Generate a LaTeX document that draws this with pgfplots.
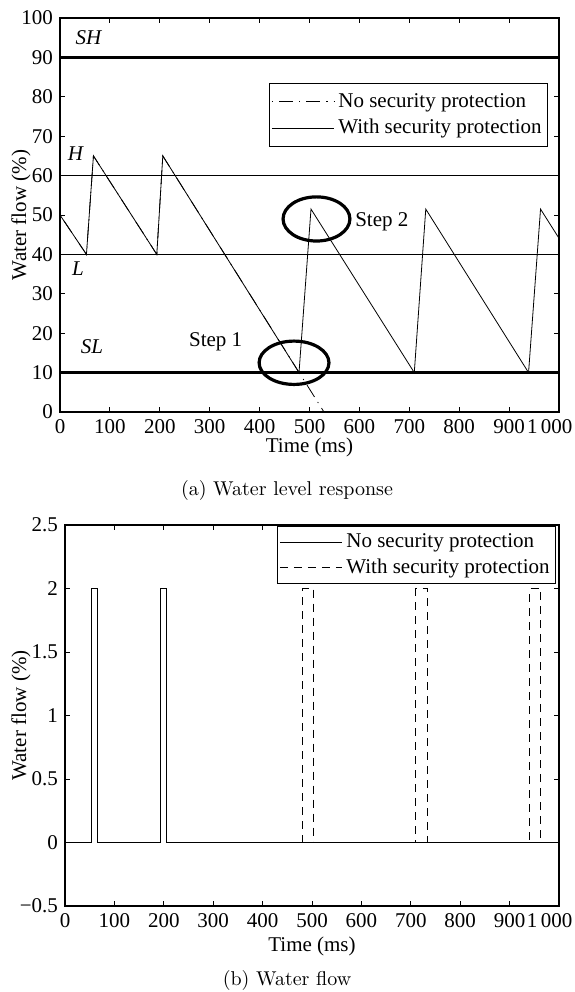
\documentclass[border=0pt]{standalone}
\usepackage{pgfplots}
\pgfplotsset{compat=1.18}
\usepackage{fontspec}
\newfontfamily\tnr{Liberation Serif}
\begin{document}
\begin{tikzpicture}
\useasboundingbox (0pt,0pt) rectangle (287pt,-496pt);
\pgfplotsset{
  myaxis/.style={
    scale only axis,
    axis line style={line width=0.9pt},
    tick align=inside,
    major tick length=2.5pt,
    tick style={line width=0.5pt,black},
    tick label style={font=\tnr\fontsize{10.5}{12}\selectfont},
    /pgf/number format/assume math mode=true,
    xmin=0, xmax=1000,
    xtick={0,100,...,1000},
    xticklabels={0,100,200,300,400,500,600,700,800,900,\makebox[13.5pt][r]{1\,000}},
    legend cell align=left,
    legend style={font=\tnr\fontsize{10.5}{12}\selectfont, draw=black, line width=0.4pt,
      inner xsep=1pt, inner ysep=3pt, row sep=0.5pt,
      /tikz/every even column/.append style={column sep=0pt}},
    legend image code/.code={\draw[##1, line width=0.4pt] (0pt,0pt) -- (31pt,0pt);},
    clip=false,
  }
}
% ---------------- (a) ----------------
\begin{axis}[myaxis,
  at={(30pt,-206pt)}, anchor=south west,
  width=249.5pt, height=197pt,
  ymin=0, ymax=100, ytick={0,10,...,100},
  xlabel={Time (ms)}, ylabel={Water flow (\%)},
  every axis x label/.style={at={(axis description cs:0.5,-0.09)}, anchor=center, font=\tnr\fontsize{10.5}{12}\selectfont},
  every axis y label/.style={at={(axis description cs:-0.078,0.5)}, rotate=90, anchor=center, font=\tnr\fontsize{10.5}{12}\selectfont},
  legend style={at={(axis description cs:0.978,0.835)}, anchor=north east},
]
\addplot[black, line width=0.4pt, dash pattern=on 0.6pt off 3pt on 7pt off 3pt] coordinates {(0,50)(53,40)(67,65)(194,40)(206,65)(529,0)};
\addlegendentry{No security protection}
\addplot[black, line width=0.4pt] coordinates {(0,50)(53,40)(67,65)(194,40)(206,65)(479,10)(503,51.5)(710,10)(733,51.5)(939,10)(963,51.5)(1000,44.1)};
\addlegendentry{With security protection}
\addplot[black, line width=1.8pt, forget plot] coordinates {(0,90)(1000,90)};
\addplot[black, line width=1.8pt, forget plot] coordinates {(0,10)(1000,10)};
\addplot[black, line width=0.5pt, forget plot] coordinates {(0,60)(1000,60)};
\addplot[black, line width=0.5pt, forget plot] coordinates {(0,40)(1000,40)};
\draw[line width=1.6pt] (axis cs:469,12.5) ellipse [x radius=70, y radius=5.5];
\draw[line width=1.6pt] (axis cs:514,49) ellipse [x radius=67, y radius=5.6];
\begin{scope}[font=\tnr\fontsize{10.5}{12}\selectfont]
\node at (axis cs:57,95) {\itshape SH};
\node at (axis cs:31,65.7) {\itshape H};
\node at (axis cs:36,36.3) {\itshape L};
\node at (axis cs:64,16.5) {\itshape SL};
\node at (axis cs:312,17.8) {Step 1};
\node at (axis cs:645,48.3) {Step 2};
\end{scope}
\end{axis}
% ---------------- (b) ----------------
\begin{axis}[myaxis,
  at={(32.5pt,-453pt)}, anchor=south west,
  width=247pt, height=190.5pt,
  ymin=-0.5, ymax=2.5, ytick={-0.5,0,0.5,1,1.5,2,2.5},
  yticklabels={−0.5,0,0.5,1,1.5,2,2.5},
  xlabel={Time (ms)}, ylabel={Water flow (\%)},
  every axis x label/.style={at={(axis description cs:0.5,-0.105)}, anchor=center, font=\tnr\fontsize{10.5}{12}\selectfont},
  every axis y label/.style={at={(axis description cs:-0.089,0.5)}, rotate=90, anchor=center, font=\tnr\fontsize{10.5}{12}\selectfont},
  legend style={at={(axis description cs:0.994,0.997)}, anchor=north east, inner ysep=1.5pt, row sep=0pt},
]
\addplot[black, line width=0.4pt] coordinates {(0,0)(54,0)(54,2)(66,2)(66,0)(194,0)(194,2)(206,2)(206,0)(1000,0)};
\addlegendentry{No security protection}
\addplot[black, line width=0.4pt, dash pattern=on 4pt off 3pt] coordinates {(481,0)(481,2)(503,2)(503,0)(710,0)(710,2)(733,2)(733,0)(941,0)(941,2)(963,2)(963,0)};
\addlegendentry{With security protection}
\end{axis}
\node[font=\fontsize{10}{12}\selectfont] at (143.5pt,-245pt) {(a) Water level response};
\node[font=\fontsize{10}{12}\selectfont] at (143.5pt,-490pt) {(b) Water flow};
\end{tikzpicture}
\end{document}
